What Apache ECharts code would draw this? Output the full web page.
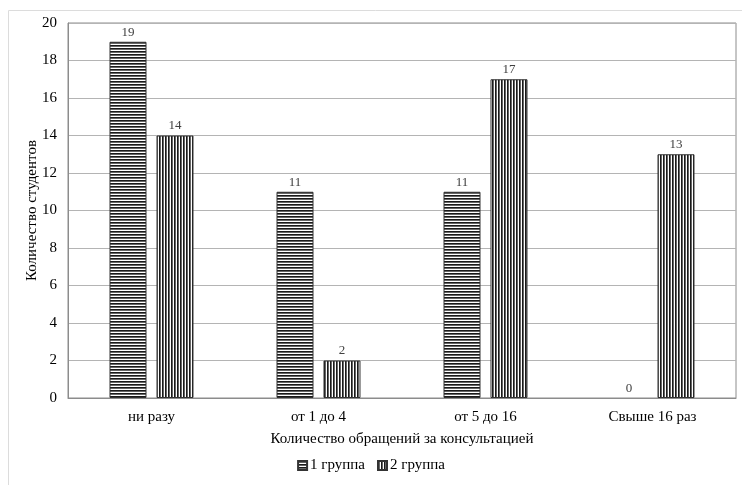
<!DOCTYPE html>
<html><head><meta charset="utf-8">
<script src="https://cdn.jsdelivr.net/npm/echarts@6/dist/echarts.min.js"></script>
<style>html,body{margin:0;padding:0;background:#fff}#c{width:742px;height:485px}</style>
</head><body><div id="c"></div>
<script>
var categories = ['ни разу', 'от 1 до 4', 'от 5 до 16', 'Свыше 16 раз'];
var group1 = [19, 11, 11, 0];
var group2 = [14, 2, 17, 13];
var seriesNames = ['1 группа', '2 группа'];
var yTicks = [0, 2, 4, 6, 8, 10, 12, 14, 16, 18, 20];

function makePattern(horizontal) {
  var c = document.createElement('canvas');
  c.width = 3; c.height = 3;
  var ctx = c.getContext('2d');
  ctx.fillStyle = '#fff'; ctx.fillRect(0, 0, 3, 3);
  ctx.fillStyle = '#1a1a1a';
  if (horizontal) { ctx.fillRect(0, 0, 3, 1); ctx.fillStyle = '#666'; ctx.fillRect(0, 1, 3, 1); }
  else { ctx.fillRect(0, 0, 1, 3); ctx.fillStyle = '#666'; ctx.fillRect(1, 0, 1, 3); }
  return { image: c, repeat: 'repeat' };
}
function toData(arr) {
  return arr.map(function (v) { return v === 0 ? { value: v, itemStyle: { borderWidth: 0 } } : v; });
}
var font = '"Liberation Serif", "Times New Roman", serif';
var chart = echarts.init(document.getElementById('c'));
var labelStyle = { show: true, position: 'top', distance: 3, color: '#404040', fontSize: 13, fontFamily: font };
chart.setOption({
  animation: false,
  textStyle: { fontFamily: font },
  graphic: [{ type: 'rect', shape: { x: 8.5, y: 10.5, width: 740, height: 480 }, style: { fill: 'none', stroke: '#dcdcdc', lineWidth: 1 }, silent: true }],
  grid: { left: 68, right: 6, top: 23, bottom: 87, show: true, borderColor: '#8c8c8c', borderWidth: 1 },
  legend: {
    bottom: 7, left: 'center', itemWidth: 9, itemHeight: 9, itemGap: 12, icon: 'rect',
    textStyle: { fontFamily: font, fontSize: 15, color: '#000', padding: [0, 0, 0, -2] },
    data: seriesNames
  },
  xAxis: {
    type: 'category', data: categories,
    axisLine: { lineStyle: { color: '#8c8c8c' } }, axisTick: { show: false },
    axisLabel: { fontFamily: font, fontSize: 15, color: '#000', margin: 12 },
    name: 'Количество обращений за консультацией', nameLocation: 'middle', nameGap: 34,
    nameTextStyle: { fontFamily: font, fontSize: 15, color: '#000' }
  },
  yAxis: {
    type: 'value', min: 0, max: 20, interval: 2,
    axisLine: { show: true, lineStyle: { color: '#8c8c8c' } }, axisTick: { show: false },
    axisLabel: { fontFamily: font, fontSize: 15, color: '#000', margin: 11,
      formatter: function (v) { return yTicks.indexOf(v) >= 0 ? String(v) : ''; } },
    splitLine: { show: true, lineStyle: { color: '#b4b4b4' } },
    name: 'Количество студентов', nameLocation: 'middle', nameGap: 28, nameMoveOverlap: false,
    nameTextStyle: { fontFamily: font, fontSize: 15, color: '#000' }
  },
  series: [
    { name: seriesNames[0], type: 'bar', data: toData(group1), barWidth: 37, barGap: '27%',
      itemStyle: { color: makePattern(true), borderColor: '#333', borderWidth: 1 }, label: labelStyle },
    { name: seriesNames[1], type: 'bar', data: toData(group2), barWidth: 37,
      itemStyle: { color: makePattern(false), borderColor: '#333', borderWidth: 1 }, label: labelStyle }
  ]
});
</script></body></html>
